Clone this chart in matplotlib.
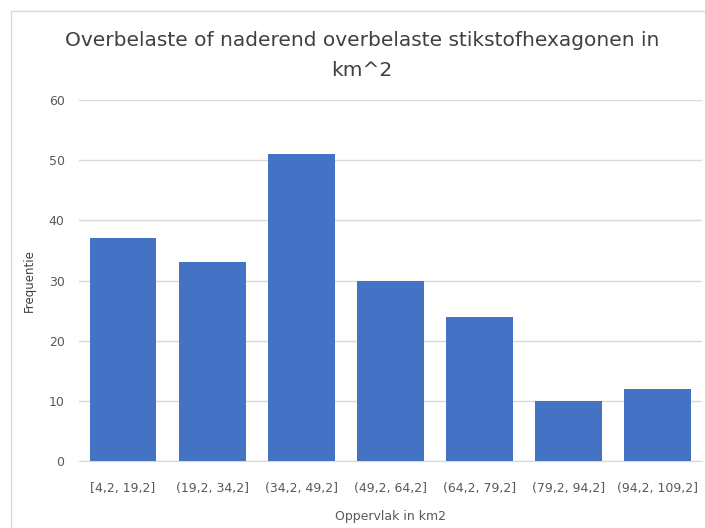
import matplotlib
matplotlib.use("Agg")
import matplotlib.pyplot as plt
from matplotlib.patches import Rectangle

categories = ["[4,2, 19,2]", "(19,2, 34,2]", "(34,2, 49,2]", "(49,2, 64,2]",
              "(64,2, 79,2]", "(79,2, 94,2]", "(94,2, 109,2]"]
frequencies = [37, 33, 51, 30, 24, 10, 12]
yticks = [0, 10, 20, 30, 40, 50, 60]

title = "Overbelaste of naderend overbelaste stikstofhexagonen in\nkm^2"
xlabel = "Oppervlak in km2"
ylabel = "Frequentie"

W, H = 705, 528
fig = plt.figure(figsize=(W / 100, H / 100), dpi=100)
fig.patch.set_facecolor("white")

# chart border (cropped on right/bottom)
fig.patches.append(Rectangle((10.5 / W, -0.1), 1.2, (H - 11) / H + 0.1,
                             transform=fig.transFigure, fill=False,
                             edgecolor="#D9D9D9", linewidth=1.0))

left, right, top, bottom = 78.5, 702, 100, 461
ax = fig.add_axes([left / W, (H - bottom) / H, (right - left) / W, (bottom - top) / H])

x = list(range(len(categories)))
ax.bar(x, frequencies, width=0.75, color="#4472C4", zorder=3)
ax.set_xlim(-0.5, len(categories) - 0.5)
ax.set_ylim(0, 60)
ax.set_yticks(yticks)
ax.set_xticks(x)
ax.set_xticklabels(categories)

for s in ["left", "right", "top"]:
    ax.spines[s].set_visible(False)
ax.spines["bottom"].set_color("#D9D9D9")
ax.grid(axis="y", color="#D9D9D9", linewidth=1.0, zorder=0)
ax.tick_params(axis="both", length=0, colors="#595959", labelsize=9)
ax.tick_params(axis="y", pad=10)
ax.tick_params(axis="x", pad=15)

ax.set_xlabel(xlabel, fontsize=9, color="#595959", labelpad=11)
ax.set_ylabel(ylabel, fontsize=8.5, color="#404040")
ax.yaxis.set_label_coords(-(78.5 - 36) / (right - left), 0.5)

fig.text(362 / W, 1 - 55.5 / H, title, ha="center", va="center", fontsize=14.5,
         color="#404040", linespacing=1.7)

fig.savefig("out.png", dpi=100)
